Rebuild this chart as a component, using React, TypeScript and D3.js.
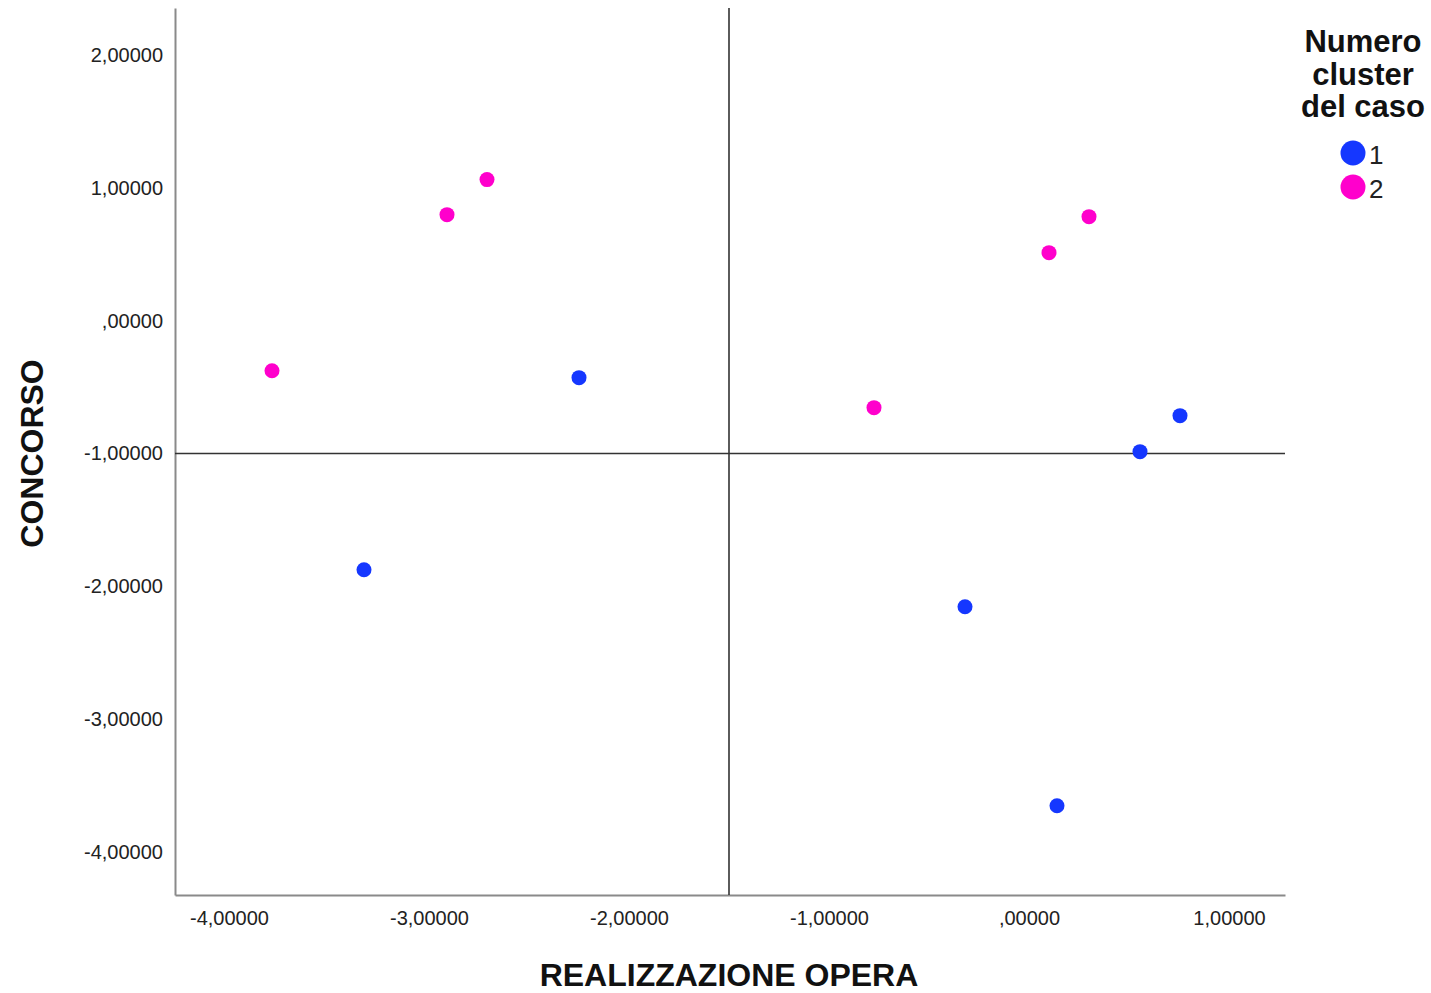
import React, { useEffect, useRef } from 'react';
import * as d3 from 'd3';

// cluster 1 = blue, cluster 2 = pink
const cluster1X = [-2.25, -3.325, 0.755, 0.555, -0.32, 0.14];
const cluster1Y = [-0.429, -1.875, -0.715, -0.986, -2.154, -3.652];
const cluster2X = [-3.785, -2.91, -2.71, -0.775, 0.10, 0.30];
const cluster2Y = [-0.377, 0.798, 1.062, -0.655, 0.512, 0.783];

const xTicks = [-4, -3, -2, -1, 0, 1];
const yTicks = [2, 1, 0, -1, -2, -3, -4];
const refX = -1.5;
const refY = -1.0;

const clusterLabels = ['1', '2'];
const clusterColors = ['#1537ff', '#ff00cc'];

const App: React.FC = () => {
    const ref = useRef<SVGSVGElement>(null);

    useEffect(() => {
        const svg = d3.select(ref.current);
        svg.selectAll('*').remove();

        const left = 175, right = 1285, top = 8, bottom = 895;
        const x = d3.scaleLinear().domain([-4.27, 1.28]).range([left, right]);
        const y = d3.scaleLinear().domain([-4.324, 2.354]).range([bottom, top]);

        const it = d3.formatLocale({ decimal: ',', thousands: '.', grouping: [3], currency: ['', '€'], minus: '-' });
        const f5 = it.format('.5f');
        const fmt = (v: any) => f5(v).replace(/^(-?)0,/, '$1,');

        const font = '"Liberation Sans", Arial, sans-serif';

        // axes
        const gx = svg.append('g').attr('transform', `translate(0,${bottom})`)
            .call(d3.axisBottom(x).tickValues(xTicks).tickSize(0).tickPadding(16).tickFormat(fmt));
        gx.select('.domain').attr('stroke', '#8a8a8a').attr('stroke-width', 2);
        gx.selectAll('text').attr('font-family', font).attr('font-size', 20).attr('fill', '#222');

        const gy = svg.append('g').attr('transform', `translate(${left},0)`)
            .call(d3.axisLeft(y).tickValues(yTicks).tickSize(0).tickPadding(12).tickFormat(fmt));
        gy.select('.domain').attr('stroke', '#8a8a8a').attr('stroke-width', 2);
        gy.selectAll('text').attr('font-family', font).attr('font-size', 20).attr('fill', '#222');

        // reference lines
        svg.append('line')
            .attr('x1', x(refX)).attr('x2', x(refX)).attr('y1', top).attr('y2', bottom)
            .attr('stroke', '#333').attr('stroke-width', 1.6);
        svg.append('line')
            .attr('x1', left).attr('x2', right).attr('y1', y(refY)).attr('y2', y(refY))
            .attr('stroke', '#333').attr('stroke-width', 1.6);

        // points
        const series = [
            { xs: cluster1X, ys: cluster1Y, color: clusterColors[0] },
            { xs: cluster2X, ys: cluster2Y, color: clusterColors[1] },
        ];
        series.forEach(s => {
            svg.append('g').selectAll('circle')
                .data(s.xs.map((v, i) => [v, s.ys[i]]))
                .enter()
                .append('circle')
                .attr('cx', d => x(d[0]))
                .attr('cy', d => y(d[1]))
                .attr('r', 7.5)
                .attr('fill', s.color);
        });

        // axis titles
        svg.append('text')
            .attr('x', x(refX)).attr('y', 986)
            .attr('text-anchor', 'middle')
            .attr('font-family', font).attr('font-size', 32).attr('font-weight', 'bold')
            .attr('fill', '#111')
            .text('REALIZZAZIONE OPERA');
        svg.append('text')
            .attr('transform', `translate(43,${y(refY)}) rotate(-90)`)
            .attr('text-anchor', 'middle')
            .attr('font-family', font).attr('font-size', 32).attr('font-weight', 'bold')
            .attr('fill', '#111')
            .text('CONCORSO');

        // legend
        const lg = svg.append('g');
        ['Numero', 'cluster', 'del caso'].forEach((t, i) => {
            lg.append('text')
                .attr('x', 1363).attr('y', 52 + i * 32.5)
                .attr('text-anchor', 'middle')
                .attr('font-family', font).attr('font-size', 31).attr('font-weight', 'bold')
                .attr('fill', '#111')
                .text(t);
        });
        clusterLabels.forEach((lab, i) => {
            lg.append('circle')
                .attr('cx', 1353).attr('cy', 153 + i * 34)
                .attr('r', 12.5).attr('fill', clusterColors[i]);
            lg.append('text')
                .attr('x', 1369).attr('y', 164 + i * 34)
                .attr('font-family', font).attr('font-size', 26)
                .attr('fill', '#222')
                .text(lab);
        });
    }, []);

    return (
        <svg ref={ref} width={1431} height={993}
            style={{ position: 'absolute', left: 0, top: 0, background: '#fff' }} />
    );
};

export default App;
